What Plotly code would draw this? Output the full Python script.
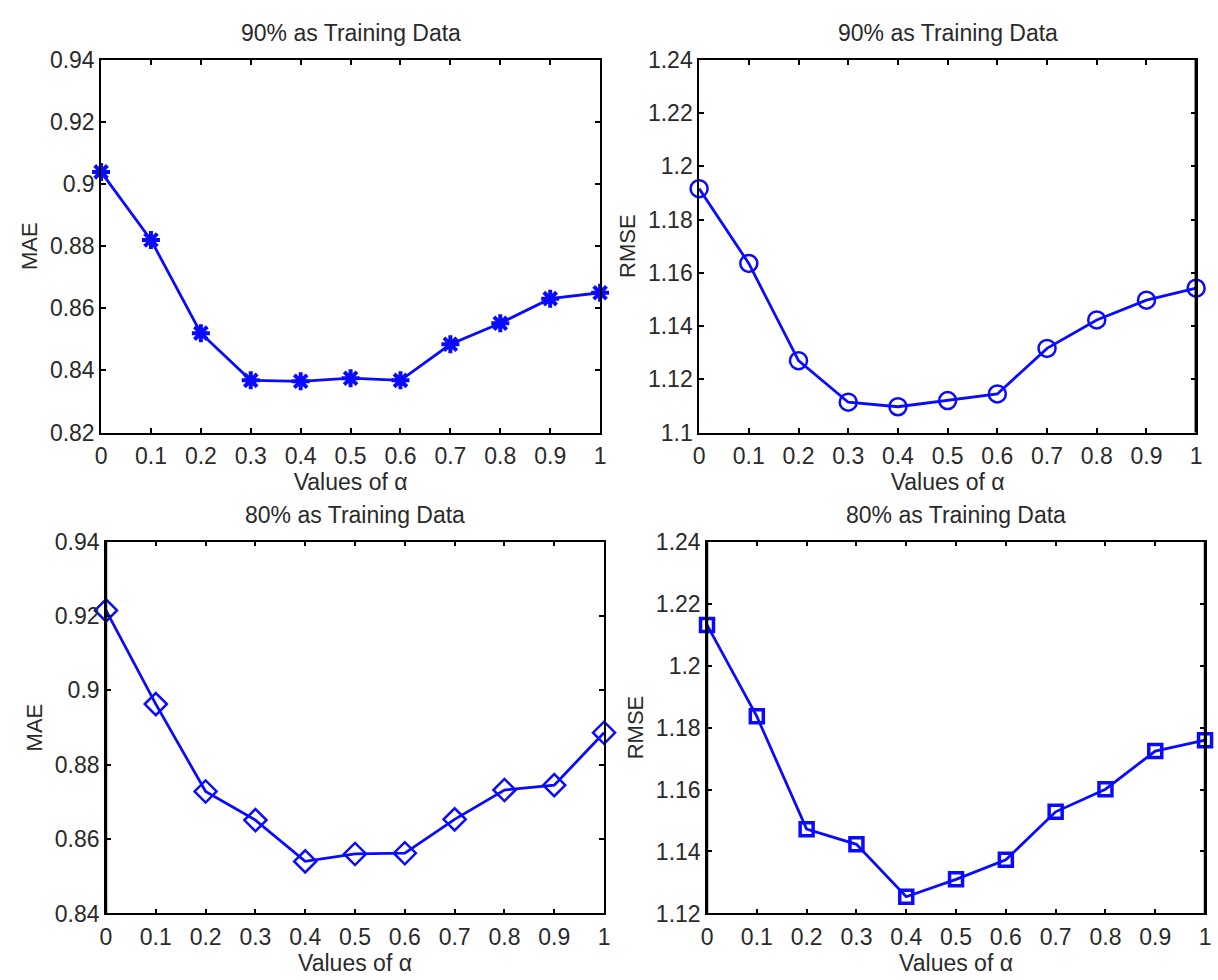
import plotly.graph_objects as go

alpha = [0, 0.1, 0.2, 0.3, 0.4, 0.5, 0.6, 0.7, 0.8, 0.9, 1.0]
alpha_ticktext = ["0", "0.1", "0.2", "0.3", "0.4", "0.5", "0.6", "0.7", "0.8", "0.9", "1"]

mae_90 = [0.9039, 0.8820, 0.8520, 0.8368, 0.8365, 0.8375, 0.8368, 0.8484, 0.8552, 0.8631, 0.8650]
rmse_90 = [1.1916, 1.1635, 1.1270, 1.1114, 1.1097, 1.1120, 1.1145, 1.1316, 1.1423, 1.1497, 1.1542]
mae_80 = [0.9215, 0.8963, 0.8728, 0.8651, 0.8540, 0.8560, 0.8562, 0.8653, 0.8732, 0.8745, 0.8886]
rmse_80 = [1.2131, 1.1836, 1.1472, 1.1423, 1.1254, 1.1310, 1.1373, 1.1528, 1.1601, 1.1724, 1.1759]

mae90_ticks = [0.82, 0.84, 0.86, 0.88, 0.90, 0.92, 0.94]
mae90_text = ["0.82", "0.84", "0.86", "0.88", "0.9", "0.92", "0.94"]
rmse90_ticks = [1.10, 1.12, 1.14, 1.16, 1.18, 1.20, 1.22, 1.24]
rmse90_text = ["1.1", "1.12", "1.14", "1.16", "1.18", "1.2", "1.22", "1.24"]
mae80_ticks = [0.84, 0.86, 0.88, 0.90, 0.92, 0.94]
mae80_text = ["0.84", "0.86", "0.88", "0.9", "0.92", "0.94"]
rmse80_ticks = [1.12, 1.14, 1.16, 1.18, 1.20, 1.22, 1.24]
rmse80_text = ["1.12", "1.14", "1.16", "1.18", "1.2", "1.22", "1.24"]

titles = ["90% as Training Data", "90% as Training Data", "80% as Training Data", "80% as Training Data"]
ylabels = ["MAE", "RMSE", "MAE", "RMSE"]
xlabel = "Values of α"

BLUE = "#0a0aff"
W, H = 1218, 980

panels = [
    # (values, marker symbol, size, marker line width, ticks, ticktext, x px, y px)
    (mae_90, "asterisk-open", 15, 4, mae90_ticks, mae90_text, (96, 600), (48, 431)),
    (rmse_90, "circle-open", 17, 2.5, rmse90_ticks, rmse90_text, (700, 1202), (48, 431)),
    (mae_80, "diamond-open", 17, 2.5, mae80_ticks, mae80_text, (101, 604), (543, 925)),
    (rmse_80, "square-open", 13, 3.5, rmse80_ticks, rmse80_text, (708, 1211), (543, 925)),
]

fig = go.Figure()
layout = {}
annotations = []
TXT = "#2a2a2a"
FONT = "Liberation Sans, Arial, sans-serif"

for i, (vals, sym, size, mlw, tv, tt, (x0, x1), (y0, y1)) in enumerate(panels):
    n = "" if i == 0 else str(i + 1)
    fig.add_trace(go.Scatter(
        x=alpha, y=vals, mode="lines+markers",
        line=dict(color=BLUE, width=2.8),
        marker=dict(symbol=sym, size=size, color=BLUE, line=dict(color=BLUE, width=mlw)),
        cliponaxis=False, showlegend=False,
        xaxis="x" + n, yaxis="y" + n,
    ))
    xd = [x0 / W, x1 / W]
    yd = [1 - y1 / H, 1 - y0 / H]
    common = dict(showline=True, linecolor="black", linewidth=1.6, mirror="allticks",
                  ticks="inside", ticklen=5, tickwidth=2, tickcolor="black",
                  showgrid=False, zeroline=False,
                  tickfont=dict(size=23, color=TXT, family=FONT))
    layout["xaxis" + n] = dict(domain=xd, range=[0, 1], anchor="y" + n,
                               tickvals=alpha, ticktext=alpha_ticktext, ticklabelstandoff=2,
                               title=dict(text=xlabel, font=dict(size=23, color=TXT, family=FONT), standoff=2),
                               **common)
    layout["yaxis" + n] = dict(domain=yd, range=[tv[0], tv[-1]], anchor="x" + n,
                               tickvals=tv, ticktext=tt,
                               title=dict(text=ylabels[i], font=dict(size=22, color=TXT, family=FONT), standoff=6),
                               **common)
    annotations.append(dict(text=titles[i], x=(xd[0] + xd[1]) / 2, y=1 - (y0 - 27) / H,
                            xref="paper", yref="paper", xanchor="center", yanchor="middle",
                            showarrow=False, font=dict(size=23, color=TXT, family=FONT)))

shapes = [
    dict(type="line", xref="x2 domain", yref="y2 domain", x0=1, x1=1, y0=0, y1=1,
         line=dict(color="black", width=3.2)),
    dict(type="line", xref="x4 domain", yref="y4 domain", x0=1, x1=1, y0=0, y1=1,
         line=dict(color="black", width=2.6)),
    dict(type="line", xref="x3 domain", yref="y3 domain", x0=0, x1=0, y0=0, y1=1,
         line=dict(color="black", width=2.4)),
    dict(type="line", xref="x4 domain", yref="y4 domain", x0=0, x1=0, y0=0, y1=1,
         line=dict(color="black", width=2.4)),
]

fig.update_layout(
    width=W, height=H, margin=dict(l=0, r=0, t=0, b=0),
    paper_bgcolor="white", plot_bgcolor="white",
    annotations=annotations, shapes=shapes, **layout,
)

fig.write_html("out.html")
